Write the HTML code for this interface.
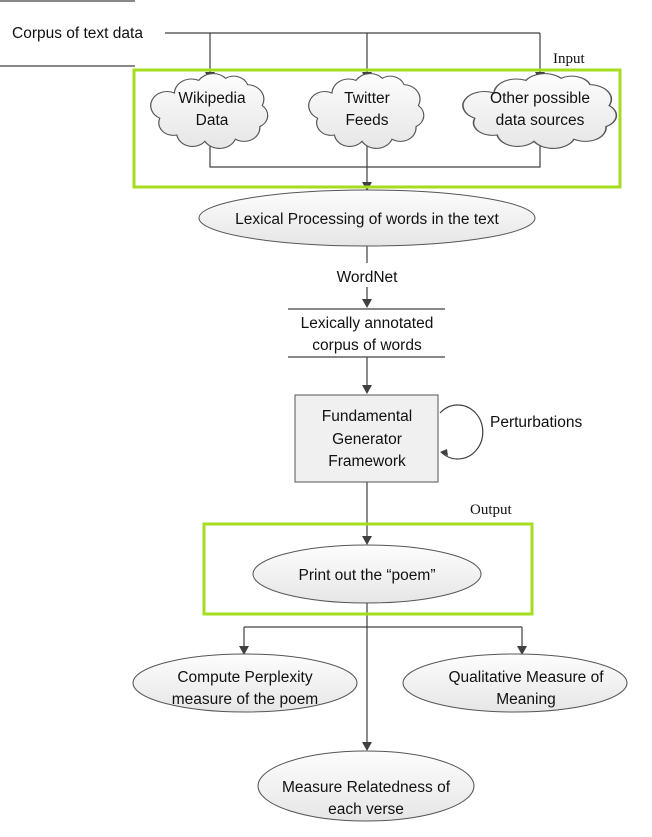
<!DOCTYPE html>
<html><head><meta charset="utf-8"><style>
html,body{margin:0;padding:0;background:#fff;width:652px;height:837px;overflow:hidden}
svg text{font-family:"Liberation Sans",sans-serif;font-size:15.5px;fill:#111}
</style></head><body>
<svg width="652" height="837" viewBox="0 0 652 837" xmlns="http://www.w3.org/2000/svg">
<defs>
<linearGradient id="g" x1="0" y1="0" x2="0" y2="1"><stop offset="0" stop-color="#fdfdfd"/><stop offset="1" stop-color="#e6e6e6"/></linearGradient>
<path id="cl" d="M20,20 A14,14 0 0 1 40,8 A14,14 0 0 1 62,6 A12,12 0 0 1 80,12 A14,14 0 0 1 92,32 A12,12 0 0 1 90,52 A13,13 0 0 1 70,64 A14,14 0 0 1 45,66 A13,13 0 0 1 22,60 A12,12 0 0 1 8,44 A12,12 0 0 1 20,20 Z"/>
</defs>
<g stroke="#404040" stroke-width="1.2" fill="none">
<line x1="0" y1="1" x2="135" y2="1"/>
<line x1="0" y1="66" x2="135" y2="66"/>
<line x1="165" y1="33" x2="540" y2="33"/>
<path d="M210,33 V72"/>
<path d="M367,33 V72"/>
<path d="M540,33 V72"/>
<path d="M210,140 V167 H540 V140"/>
<path d="M367,140 V183"/>
<path d="M367,246 V263"/>
<path d="M367,287 V300"/>
<line x1="288" y1="309" x2="445" y2="309"/>
<line x1="288" y1="357" x2="445" y2="357"/>
<path d="M367,357 V386"/>
<path d="M367,482 V537"/>
<path d="M367,603 V743"/>
<path d="M244,627 H522"/>
<path d="M244,627 V647"/>
<path d="M522,627 V647"/>
<path d="M440,413 A25,27 0 1 1 441,452" />
</g>
<g fill="#404040">
<polygon points="205,72 215,72 210,81"/>
<polygon points="362,72 372,72 367,81"/>
<polygon points="535,72 545,72 540,81"/>
<polygon points="362,182 372,182 367,191"/>
<polygon points="362,299 372,299 367,308"/>
<polygon points="362,385 372,385 367,394"/>
<polygon points="362,536 372,536 367,545"/>
<polygon points="362,742 372,742 367,751"/>
<polygon points="239,646 249,646 244,655"/>
<polygon points="517,646 527,646 522,655"/>
<polygon points="448,456 440,452 447,449"/>
</g>
<text x="12" y="38">Corpus of text data</text>
<text x="553" y="63" style="font-family:'Liberation Serif',serif;font-size:15px">Input</text>
<text x="470" y="514" style="font-family:'Liberation Serif',serif;font-size:15px">Output</text>
<rect x="134" y="70" width="486" height="117" fill="none" stroke="#a6dc1e" stroke-width="3"/>
<rect x="204" y="524" width="328" height="90" fill="none" stroke="#a6dc1e" stroke-width="3"/>
<g fill="url(#g)" stroke="#555" stroke-width="1">
<use href="#cl" transform="translate(150,72) scale(1.22,1.05)"/>
<use href="#cl" transform="translate(308,72) scale(1.2,1.05)"/>
<use href="#cl" transform="translate(462,72) scale(1.6,1.05)"/>
<ellipse cx="367" cy="218" rx="168" ry="28"/>
<rect x="295" y="395" width="143" height="87" fill="#f0f0f0"/>
<ellipse cx="367" cy="574" rx="114" ry="29"/>
<ellipse cx="245" cy="683" rx="112" ry="29"/>
<ellipse cx="515" cy="683" rx="112" ry="29"/>
<ellipse cx="366" cy="786" rx="108" ry="35"/>
</g>
<g text-anchor="middle">
<text x="212" y="103">Wikipedia</text><text x="212" y="125">Data</text>
<text x="367" y="103">Twitter</text><text x="367" y="125">Feeds</text>
<text x="540" y="103">Other possible</text><text x="540" y="125">data sources</text>
<text x="367" y="224">Lexical Processing of words in the text</text>
<text x="367" y="282">WordNet</text>
<text x="367" y="328">Lexically annotated</text><text x="367" y="350">corpus of words</text>
<text x="367" y="421">Fundamental</text><text x="367" y="444">Generator</text><text x="367" y="466">Framework</text>
<text x="367" y="580">Print out the “poem”</text>
<text x="245" y="682">Compute Perplexity</text><text x="245" y="704">measure of the poem</text>
<text x="526" y="682">Qualitative Measure of</text><text x="526" y="704">Meaning</text>
<text x="366" y="792">Measure Relatedness of</text><text x="366" y="814">each verse</text>
</g>
<text x="490" y="427">Perturbations</text>
</svg>
</body></html>
